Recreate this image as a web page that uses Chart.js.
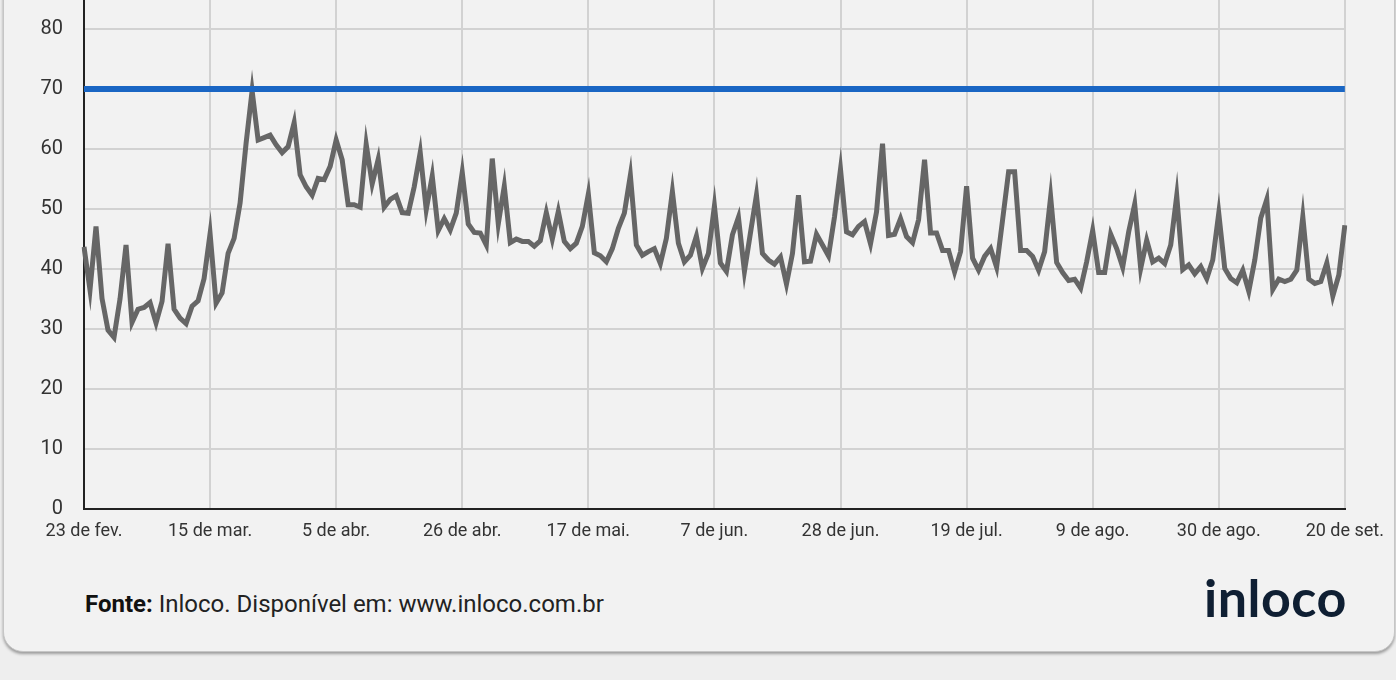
<!DOCTYPE html>
<html>
<head>
<meta charset="utf-8">
<script src="https://cdn.jsdelivr.net/npm/chart.js@4.4.0/dist/chart.umd.min.js"></script>
<style>
html,body{margin:0;padding:0;width:1396px;height:680px;overflow:hidden;background:#eeeeee;font-family:Roboto,sans-serif;}
#card{position:absolute;left:3px;top:-200px;width:1390px;height:850px;background:#f2f2f2;border:1px solid #c6c6c6;border-radius:20px;box-shadow:0 2px 3px rgba(0,0,0,0.35);}
#wrap{position:absolute;left:0;top:-64px;width:1396px;height:624px;}
#src{position:absolute;left:85px;top:589px;font-size:24px;line-height:30px;color:#222;white-space:nowrap;}
#src b{color:#111;}
#logo{position:absolute;left:1204px;top:566px;font-family:Lato,sans-serif;font-weight:bold;font-size:52px;color:#0f1f33;letter-spacing:0.5px;}
</style>
</head>
<body>
<div id="card"></div>
<div id="wrap"><canvas id="c" width="1396" height="624"></canvas></div>
<div id="src"><b>Fonte:</b> Inloco. Disponível em: www.inloco.com.br</div>
<div id="logo">inloco</div>
<script>
// Tick labels (every 21 days)
const tickLabels = ['23 de fev.','15 de mar.','5 de abr.','26 de abr.','17 de mai.','7 de jun.','28 de jun.','19 de jul.','9 de ago.','30 de ago.','20 de set.'];
// Daily isolation index values, 23 Feb -> 20 Sep (211 days)
const isolation = [
43.7,36.5,47.1,35.1,29.8,28.6,35,44,31.1,33.3,
33.6,34.4,31,34.6,44.2,33.3,31.8,30.9,33.8,34.7,
38.4,45.9,34.3,36,42.6,45.1,51,61,69.7,61.5,
61.9,62.3,60.7,59.4,60.4,64.4,55.7,53.7,52.3,55.1,
54.9,57.1,61.5,58.2,50.7,50.7,50.3,60.8,54.2,58.3,
50.3,51.6,52.2,49.4,49.3,53.7,59.4,49.9,55.5,46.4,
48.4,46.5,49.3,56.1,47.5,46.1,46,44,58.4,47.5,
53.8,44.4,45,44.6,44.6,43.8,44.7,49.4,45,49.6,
44.6,43.4,44.3,47.1,52.5,42.7,42.2,41.2,43.4,46.8,
49.3,55.6,44,42.3,42.9,43.4,40.9,45.1,52.9,44.3,
41.2,42.3,45.5,40.1,42.6,50.5,41,39.6,45.7,48.6,
39.6,46,52.3,42.6,41.5,40.8,42,37.5,42.6,52.3,
41.2,41.3,45.8,44,42.2,48.7,56.6,46.2,45.7,47.1,
47.9,44.2,49.5,60.9,45.6,45.8,48.4,45.4,44.4,48.2,
58.2,46,46,43.1,43.1,39.5,42.9,53.8,41.8,39.8,
42.1,43.4,40.3,48.2,56.2,56.2,43.1,43.1,42.1,39.8,
42.9,52,41.1,39.4,38.1,38.3,36.8,41.2,46.4,39.4,
39.4,45.8,43.4,40.3,46.2,50.8,40.1,44.8,41.2,41.8,
40.9,44,52.2,39.9,40.7,39.2,40.4,38.4,41.5,49.3,
40.1,38.4,37.7,39.8,36.3,41.5,48.5,51.6,36.6,38.3,
37.9,38.3,39.8,48.7,38.3,37.6,37.9,41,35.5,39,
47.3
];
const target = 70; // reference level
const TICK_EVERY = 21;

// categories: day index labels
const categories = isolation.map((_, i) => 'd' + i);
const targetLine = categories.map(() => target);

const gridOpts = {color:'#d2d2d2', lineWidth:2, drawTicks:false};
const borderOpts = {color:'#222222', width:2};

new Chart(document.getElementById('c'), {
  type: 'line',
  data: {
    labels: categories,
    datasets: [
      {data: targetLine, borderColor:'#1a66c4', borderWidth:6, pointRadius:0, tension:0},
      {data: isolation, borderColor:'#666666', borderWidth:5, pointRadius:0, tension:0}
    ]
  },
  options: {
    responsive:false,
    animation:false,
    devicePixelRatio:1,
    layout:{padding:{left:0,right:51,top:26,bottom:0}},
    plugins:{legend:{display:false}, tooltip:{enabled:false}},
    scales:{
      x:{
        type:'category',
        offset:false,
        grid:gridOpts,
        border:borderOpts,
        afterFit:(s)=>{s.height=51;},
        ticks:{
          autoSkip:false, maxRotation:0, minRotation:0, padding:12,
          color:'#333333', font:{family:'Roboto', size:18},
          callback:(v,i)=> (i % TICK_EVERY === 0) ? tickLabels[i / TICK_EVERY] : null
        }
      },
      y:{
        min:0, max:90,
        grid:gridOpts,
        border:borderOpts,
        afterFit:(s)=>{s.width=84;},
        ticks:{stepSize:10, padding:21, color:'#333333', font:{family:'Roboto', size:20}}
      }
    }
  }
});
</script>
</body>
</html>
